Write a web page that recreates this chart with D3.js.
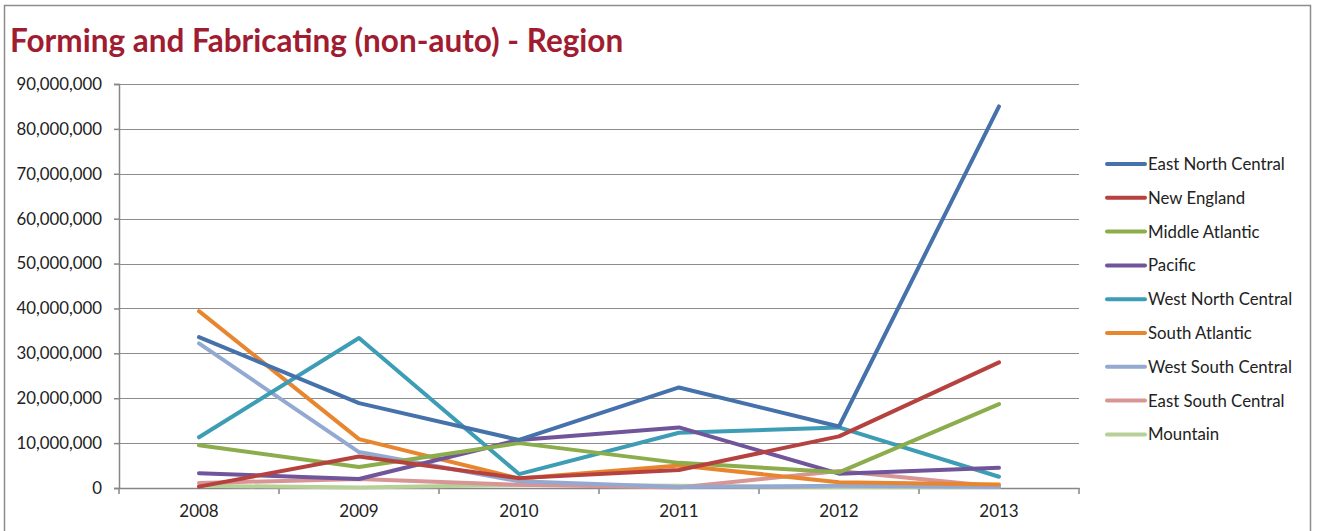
<!DOCTYPE html>
<html>
<head>
<meta charset="utf-8">
<script src="https://cdn.jsdelivr.net/npm/d3@7"></script>
<style>
  body { margin: 0; background: #fff; }
  svg text { font-family: Lato, "Open Sans", sans-serif; }
</style>
</head>
<body>
<svg id="chart"></svg>
<script>
let years = ['2008', '2009', '2010', '2011', '2012', '2013']
let regions = ['East North Central', 'New England', 'Middle Atlantic', 'Pacific', 'West North Central',
               'South Atlantic', 'West South Central', 'East South Central', 'Mountain']

let eastNorthCentral = [33600000, 18900000, 10700000, 22400000, 13700000, 85000000]
let newEngland       = [300000, 7000000, 2200000, 4000000, 11500000, 28000000]
let middleAtlantic   = [9500000, 4700000, 10000000, 5600000, 3500000, 18700000]
let pacific          = [3300000, 2000000, 10700000, 13500000, 3200000, 4500000]
let westNorthCentral = [11300000, 33400000, 3100000, 12300000, 13500000, 2500000]
let southAtlantic    = [39400000, 10900000, 2100000, 5000000, 1300000, 800000]
let westSouthCentral = [32200000, 8000000, 1500000, 200000, 500000, 200000]
let eastSouthCentral = [1100000, 2000000, 700000, 100000, 3800000, 300000]
let mountain         = [500000, 100000, 700000, 500000, 200000, 200000]

let yTicks = [0, 10000000, 20000000, 30000000, 40000000, 50000000, 60000000, 70000000, 80000000, 90000000]

let seriesValues = [eastNorthCentral, newEngland, middleAtlantic, pacific, westNorthCentral,
                    southAtlantic, westSouthCentral, eastSouthCentral, mountain]
let colors = ['#4572ab', '#b5423f', '#8bad4c', '#71559a', '#3c9db5', '#e8852f', '#93a9d2', '#d89595', '#b6d097']

let w = 1319
let h = 531
let plotLeft = 119, plotRight = 1079, plotTop = 84, plotBottom = 488

let svg = d3.select('#chart').attr('width', w).attr('height', h)

// frame
svg.append('rect')
   .attr('x', 4.5).attr('y', 5.5)
   .attr('width', 1306).attr('height', 540)
   .attr('fill', 'none').attr('stroke', '#8c8c8c').attr('stroke-width', 1.5)

svg.append('text')
   .attr('x', 10).attr('y', 52)
   .attr('fill', '#a01c30')
   .attr('font-size', 31.5).attr('font-weight', 'bold')
   .text('Forming and Fabricating (non-auto) - Region')

let xScale = d3.scaleBand().domain(years).range([plotLeft, plotRight])
let yScale = d3.scaleLinear().domain([0, 90000000]).range([plotBottom, plotTop])

// gridlines
svg.append('g')
   .selectAll('line')
   .data(yTicks.slice(1))
   .enter()
   .append('line')
   .attr('x1', plotLeft).attr('x2', plotRight)
   .attr('y1', (d) => Math.round(yScale(d)) + 0.5)
   .attr('y2', (d) => Math.round(yScale(d)) + 0.5)
   .attr('stroke', '#8c8c8c').attr('stroke-width', 1.2)

let yAxis = d3.axisLeft(yScale).tickValues(yTicks).tickFormat(d3.format(',')).tickSize(5).tickPadding(12)
let yg = svg.append('g').attr('transform', 'translate(' + plotLeft + ',0)').call(yAxis)
yg.selectAll('path, line').attr('stroke', '#868686').attr('stroke-width', 1.5)
yg.selectAll('text').attr('font-size', 16.8).attr('fill', '#222').attr('font-family', 'Lato, sans-serif')

let xAxis = d3.axisBottom(xScale).tickSize(0).tickPadding(17)
let xg = svg.append('g').attr('transform', 'translate(0,' + plotBottom + ')').call(xAxis)
xg.select('path').attr('stroke', '#868686').attr('stroke-width', 1.5)
xg.selectAll('text').attr('font-size', 17).attr('fill', '#222').attr('font-family', 'Lato, sans-serif')
xg.selectAll('line.bound')
  .data(d3.range(years.length + 1))
  .enter()
  .append('line')
  .attr('class', 'bound')
  .attr('x1', (i) => plotLeft + i * xScale.step())
  .attr('x2', (i) => plotLeft + i * xScale.step())
  .attr('y1', 0).attr('y2', 6)
  .attr('stroke', '#868686').attr('stroke-width', 1.5)

let line = d3.line()
   .x((d, i) => xScale(years[i]) + xScale.bandwidth() / 2)
   .y((d) => yScale(d))

// draw in reverse so the first series sits on top
let order = d3.range(regions.length).reverse()
svg.append('g')
   .selectAll('path')
   .data(order)
   .enter()
   .append('path')
   .attr('d', (i) => line(seriesValues[i]))
   .attr('fill', 'none')
   .attr('stroke', (i) => colors[i])
   .attr('stroke-width', 4)
   .attr('stroke-linejoin', 'round')
   .attr('stroke-linecap', 'round')

let legend = svg.append('g')
let rows = legend.selectAll('g')
   .data(regions)
   .enter()
   .append('g')
   .attr('transform', (d, i) => 'translate(1107,' + (164 + i * 33.8) + ')')

rows.append('line')
   .attr('x1', 0).attr('x2', 38).attr('y1', 0).attr('y2', 0)
   .attr('stroke', (d, i) => colors[i])
   .attr('stroke-width', 4)
   .attr('stroke-linecap', 'round')

rows.append('text')
   .attr('x', 41).attr('y', 6)
   .attr('font-size', 16.8).attr('fill', '#222')
   .text((d) => d)
</script>
</body>
</html>
